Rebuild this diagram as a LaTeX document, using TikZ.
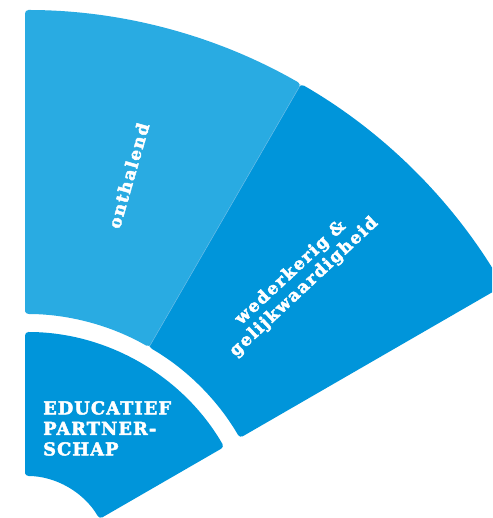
\documentclass[tikz,border=0pt]{standalone}
\usepackage{fontspec}
\setmainfont{DejaVu Serif}
\newfontfamily\slablow{DejaVu Serif}[LetterSpace=9, FakeBold=2.6]
\newfontfamily\slabcap{DejaVu Serif}[LetterSpace=6, FakeBold=2.6]
\definecolor{lightblue}{RGB}{41,171,226}
\definecolor{darkblue}{RGB}{0,149,218}
\definecolor{seam}{RGB}{95,185,230}
\tikzset{
  sector/.style={rounded corners=3.5pt},
  lowlabel/.style={text=white, font=\slablow\bfseries\fontsize{17}{19.5}\selectfont, inner sep=0pt, align=center},
  caplabel/.style={text=white, font=\slabcap\bfseries\fontsize{17.8}{20.5}\selectfont, inner sep=0pt, align=left}
}
\begin{document}
\begin{tikzpicture}[x=1pt,y=1pt]
\useasboundingbox (0,0) rectangle (492,518);
\clip (0,0) rectangle (492,518);
\begin{scope}[shift={(25,-44)}]
  \coordinate (C) at (0,0);
  % outer ring, light part
  \fill[lightblue, sector] (90:248pt) -- (90:552pt) arc[start angle=90, end angle=60, radius=552pt]
      -- (60:248pt) arc[start angle=60, end angle=90, radius=248pt] -- cycle;
  % outer ring, dark part
  \fill[darkblue, sector] (60:248pt) -- (60:552pt) arc[start angle=60, end angle=30, radius=552pt]
      -- (30:248pt) arc[start angle=30, end angle=60, radius=248pt] -- cycle;
  \draw[seam, line width=0.6pt] (60:249pt) -- (60:551pt);
  % inner sector
  \fill[darkblue, sector] (90:86pt) -- (90:230pt) arc[start angle=90, end angle=30, radius=230pt]
      -- (30:86pt) arc[start angle=30, end angle=90, radius=86pt] -- cycle;
  % labels
  \node[lowlabel, rotate=74] (onth) at (75:400pt) {onthalend};
  \node[lowlabel, rotate=43] (weder) at (46:392pt) {wederkerig \&\\gelijkwaardigheid};
\end{scope}
\node[caplabel, anchor=north west] (edu) at (43,117) {EDUCATIEF\\PARTNER-\\SCHAP};
\end{tikzpicture}
\end{document}
